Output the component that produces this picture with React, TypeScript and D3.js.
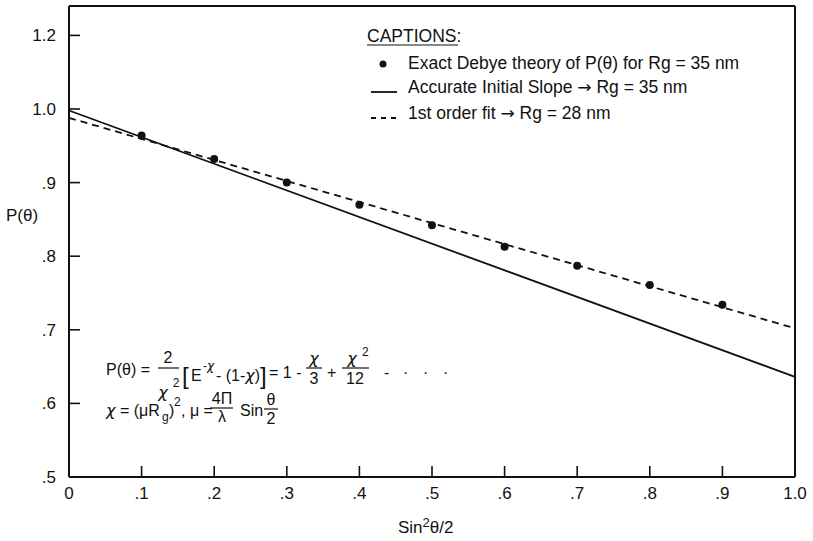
import React from "react";
import * as d3 from "d3";

// Scattering factor P(θ) vs Sin²θ/2
const sinSq = [0.1, 0.2, 0.3, 0.4, 0.5, 0.6, 0.7, 0.8, 0.9];
const debyeExact = [0.964, 0.932, 0.9, 0.87, 0.842, 0.813, 0.787, 0.761, 0.734];

// straight lines given by their end values at Sin²θ/2 = 0 and 1
const initialSlope = [
  { x: 0, y: 0.998 },
  { x: 1, y: 0.636 },
];
const firstOrderFit = [
  { x: 0, y: 0.988 },
  { x: 1, y: 0.702 },
];

const xTickValues = [0, 0.1, 0.2, 0.3, 0.4, 0.5, 0.6, 0.7, 0.8, 0.9, 1.0];
const xTickLabels = ["0", ".1", ".2", ".3", ".4", ".5", ".6", ".7", ".8", ".9", "1.0"];
const yTickValues = [0.5, 0.6, 0.7, 0.8, 0.9, 1.0, 1.1];
const yTickLabels = [".5", ".6", ".7", ".8", ".9", "1.0", "1.2"];

const W = 813;
const H = 541;
const left = 69;
const right = 795;
const top = 6;
const bottom = 477;
const FONT = "'Liberation Sans', Arial, Helvetica, sans-serif";
const SYMBOL_FONT = "'DejaVu Sans', sans-serif";

export default function App() {
  const x = d3.scaleLinear().domain([0, 1]).range([left, right]);
  const y = d3.scaleLinear().domain([0.5, 1.0]).range([bottom, 109]);
  const line = d3
    .line<{ x: number; y: number }>()
    .x((d) => x(d.x))
    .y((d) => y(d.y));

  const tick = 11;
  const txt = { fontFamily: FONT, fill: "#111" } as const;
  const chi = { fontFamily: SYMBOL_FONT, fontStyle: "italic" } as const;

  return (
    <svg
      width={W}
      height={H}
      style={{ position: "absolute", left: 0, top: 0, background: "#fff" }}
    >
      {/* frame */}
      <g stroke="#111" strokeWidth={2} fill="none">
        <line x1={left} y1={top} x2={left} y2={bottom} />
        <line x1={left} y1={bottom} x2={right} y2={bottom} />
        <line x1={left} y1={top} x2={right} y2={top} />
        <line x1={right} y1={top} x2={right} y2={bottom} />
      </g>

      {/* x ticks */}
      {xTickValues.map((v, i) => (
        <g key={"xt" + i}>
          {i > 0 && i < xTickValues.length - 1 && (
            <line
              x1={x(v)}
              x2={x(v)}
              y1={bottom}
              y2={bottom - tick}
              stroke="#111"
              strokeWidth={1.6}
            />
          )}
          <text x={x(v)} y={499} textAnchor="middle" fontSize={17} {...txt}>
            {xTickLabels[i]}
          </text>
        </g>
      ))}

      {/* y ticks */}
      {yTickValues.map((v, i) => (
        <g key={"yt" + i}>
          {i > 0 && (
            <line
              x1={left}
              x2={left + tick}
              y1={y(v)}
              y2={y(v)}
              stroke="#111"
              strokeWidth={1.6}
            />
          )}
          <text x={56} y={y(v) + 6} textAnchor="end" fontSize={17} {...txt}>
            {yTickLabels[i]}
          </text>
        </g>
      ))}

      {/* axis titles */}
      <text x={6} y={221} fontSize={17} {...txt}>
        P(θ)
      </text>
      <text x={398} y={533} fontSize={17} {...txt}>
        Sin
        <tspan fontSize={13} dy={-6}>2</tspan>
        <tspan dy={6}>θ/2</tspan>
      </text>

      {/* curves */}
      <path d={line(initialSlope) || ""} stroke="#111" strokeWidth={1.8} fill="none" />
      <path
        d={line(firstOrderFit) || ""}
        stroke="#111"
        strokeWidth={1.8}
        strokeDasharray="7 5"
        fill="none"
      />
      {sinSq.map((s, i) => (
        <circle key={"p" + i} cx={x(s)} cy={y(debyeExact[i])} r={4} fill="#111" />
      ))}

      {/* captions */}
      <text x={367} y={42} fontSize={17.5} {...txt}>
        CAPTIONS:
      </text>
      <line x1={367} x2={458} y1={45} y2={45} stroke="#111" strokeWidth={1.2} />
      <circle cx={383} cy={64} r={3.5} fill="#111" />
      <text x={408} y={69} fontSize={17.5} {...txt}>
        Exact Debye theory of P(θ) for Rg = 35 nm
      </text>
      <line x1={371} x2={397} y1={92} y2={92} stroke="#111" strokeWidth={1.8} />
      <text x={408} y={93} fontSize={17.5} {...txt}>
        Accurate Initial Slope{" "}
        <tspan fontFamily={SYMBOL_FONT} fontSize={17}>→</tspan> Rg = 35 nm
      </text>
      <line
        x1={371}
        x2={397}
        y1={118}
        y2={118}
        stroke="#111"
        strokeWidth={1.8}
        strokeDasharray="5 5"
      />
      <text x={408} y={119} fontSize={17.5} {...txt}>
        1st order fit <tspan fontFamily={SYMBOL_FONT} fontSize={17}>→</tspan> Rg = 28 nm
      </text>

      {/* form factor formula */}
      <g fontSize={16} {...txt}>
        <text x={106} y={375}>P(θ) =</text>
        <text x={168} y={363} textAnchor="middle">2</text>
        <line x1={158} x2={179} y1={368} y2={368} stroke="#111" strokeWidth={1.2} />
        <text x={163} y={398} textAnchor="middle" {...chi}>χ</text>
        <text x={176} y={387} fontSize={12} textAnchor="middle">2</text>
        <text x={182} y={384} fontSize={24}>[</text>
        <text x={191} y={381}>E</text>
        <text x={203} y={370} fontSize={12}>
          -<tspan {...chi}>χ</tspan>
        </text>
        <text x={216} y={381}>
          - (1-<tspan {...chi}>χ</tspan>)
        </text>
        <text x={260} y={384} fontSize={24}>]</text>
        <text x={269} y={378}>= 1 -</text>
        <text x={314} y={364} textAnchor="middle" {...chi}>χ</text>
        <line x1={306} x2={322} y1={368} y2={368} stroke="#111" strokeWidth={1.2} />
        <text x={314} y={384} textAnchor="middle">3</text>
        <text x={327} y={378}>+</text>
        <text x={352} y={364} textAnchor="middle" {...chi}>χ</text>
        <text x={362} y={356} fontSize={12}>2</text>
        <line x1={342} x2={369} y1={368} y2={368} stroke="#111" strokeWidth={1.2} />
        <text x={355} y={384} textAnchor="middle">12</text>
        <text x={384} y={378}>-</text>
        <text x={403} y={378}>·</text>
        <text x={423} y={378}>·</text>
        <text x={443} y={378}>·</text>

        <text x={106} y={416}>
          <tspan {...chi}>χ</tspan> = (μR
        </text>
        <text x={162} y={421} fontSize={12}>g</text>
        <text x={169} y={416}>)</text>
        <text x={174} y={406} fontSize={12}>2</text>
        <text x={181} y={416}>, μ =</text>
        <text x={222} y={404} textAnchor="middle">4Π</text>
        <line x1={210} x2={233} y1={408} y2={408} stroke="#111" strokeWidth={1.2} />
        <text x={222} y={422} textAnchor="middle">λ</text>
        <text x={240} y={416}>Sin</text>
        <text x={271} y={405} textAnchor="middle">θ</text>
        <line x1={264} x2={278} y1={409} y2={409} stroke="#111" strokeWidth={1.2} />
        <text x={271} y={424} textAnchor="middle">2</text>
      </g>
    </svg>
  );
}
